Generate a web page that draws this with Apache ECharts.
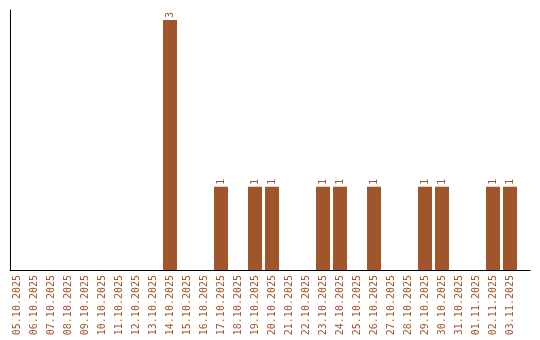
<!DOCTYPE html>
<html>
<head>
<meta charset="utf-8">
<script src="https://cdn.jsdelivr.net/npm/echarts@6/dist/echarts.min.js"></script>
<style>html,body{margin:0;padding:0;background:#fff}#c{width:540px;height:340px}</style>
</head>
<body>
<div id="c"></div>
<script>
const categories = ['05.10.2025','06.10.2025','07.10.2025','08.10.2025','09.10.2025','10.10.2025','11.10.2025','12.10.2025','13.10.2025','14.10.2025','15.10.2025','16.10.2025','17.10.2025','18.10.2025','19.10.2025','20.10.2025','21.10.2025','22.10.2025','23.10.2025','24.10.2025','25.10.2025','26.10.2025','27.10.2025','28.10.2025','29.10.2025','30.10.2025','31.10.2025','01.11.2025','02.11.2025','03.11.2025'];
const values = [0,0,0,0,0,0,0,0,0,3,0,0,1,0,1,1,0,0,1,1,0,1,0,0,1,1,0,0,1,1];

const color = '#a0552b';
const font = 'DejaVu Sans Mono';
const chart = echarts.init(document.getElementById('c'), null, {renderer:'canvas'});
chart.setOption({
  animation: false,
  backgroundColor: '#fff',
  grid: [
    {left: 8.5, width: 510, top: 10, bottom: 70},
    {left: 10, right: 10, top: 10, bottom: 70}
  ],
  xAxis: [
    {
      type: 'category', gridIndex: 0, data: categories,
      axisLine: {show: false}, axisTick: {show: false},
      axisLabel: {rotate: 90, interval: 0, margin: 5, color: color, fontFamily: font, fontSize: 10}
    },
    {
      type: 'value', gridIndex: 1, min: 0, max: 1,
      axisLine: {show: true, onZero: false, lineStyle: {color: '#000', width: 1}},
      axisTick: {show: false}, axisLabel: {show: false}, splitLine: {show: false}
    }
  ],
  yAxis: [
    {type: 'value', gridIndex: 0, min: 0, max: 3.12, show: false},
    {
      type: 'value', gridIndex: 1, min: 0, max: 1,
      axisLine: {show: true, lineStyle: {color: '#000', width: 1}},
      axisTick: {show: false}, axisLabel: {show: false}, splitLine: {show: false}
    }
  ],
  series: [{
    type: 'bar', xAxisIndex: 0, yAxisIndex: 0,
    data: values.map(v => v === 0 ? null : v),
    barWidth: 14,
    itemStyle: {color: color},
    label: {
      show: true, position: 'top', rotate: 90, distance: 2,
      align: 'left', verticalAlign: 'middle',
      color: color, fontFamily: font, fontSize: 10
    }
  }]
});
</script>
</body>
</html>
